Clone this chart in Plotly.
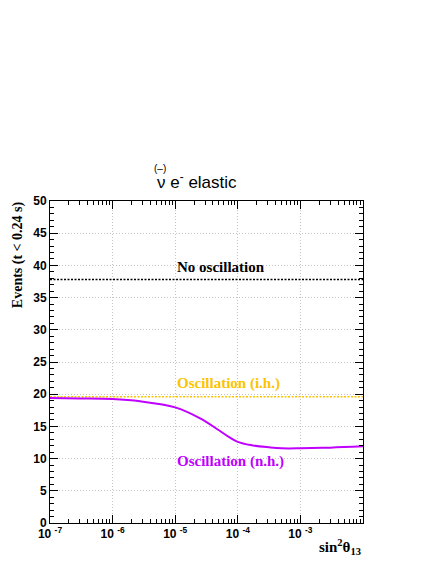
import plotly.graph_objects as go

# sin^2(theta13) grid and event counts (t < 0.24 s)
SIN2_T13 = [1e-7, 3e-7, 1e-6, 2.75e-6, 1e-5, 2.5e-5, 5e-5, 7.5e-5, 1e-4, 1.6e-4, 3.2e-4, 5e-4, 1e-3, 3e-3, 1e-2]
EVENTS_NH = [19.4, 19.35, 19.25, 18.9, 17.95, 16.25, 14.4, 13.25, 12.6, 12.1, 11.75, 11.6, 11.6, 11.7, 11.9]
X_ENDS = [1e-7, 1e-2]
EVENTS_IH = [19.6, 19.6]
EVENTS_NOOSC = [37.8, 37.8]

X_TICKS = [1e-7, 1e-6, 1e-5, 1e-4, 1e-3]
X_TICKTEXT = ["<b>10 <sup>-7</sup></b>", "<b>10 <sup>-6</sup></b>", "<b>10 <sup>-5</sup></b>",
              "<b>10 <sup>-4</sup></b>", "<b>10 <sup>-3</sup></b>"]
Y_TICKS = [0, 5, 10, 15, 20, 25, 30, 35, 40, 45, 50]

PURPLE = "#c000ff"
GOLD = "#fcc400"
SERIF = "Liberation Serif"
SANS = "Liberation Sans"

fig = go.Figure()
fig.add_trace(go.Scatter(x=X_ENDS, y=EVENTS_NOOSC, mode="lines",
                         line=dict(color="black", width=1.5, dash="2px,1.5px"), showlegend=False))
fig.add_trace(go.Scatter(x=X_ENDS, y=EVENTS_IH, mode="lines",
                         line=dict(color=GOLD, width=1.5, dash="2px,1.5px"), showlegend=False))
fig.add_trace(go.Scatter(x=SIN2_T13, y=EVENTS_NH, mode="lines", line_shape="spline",
                         line=dict(color=PURPLE, width=2), showlegend=False))

axis_common = dict(showline=True, linecolor="black", linewidth=1, mirror="allticks",
                   ticks="inside", ticklen=8, tickcolor="black", zeroline=False, automargin=False,
                   showgrid=True, gridcolor="#c4c4c4", griddash="1px,2px", gridwidth=1,
                   tickfont=dict(family=SANS, size=12, color="black"))

fig.update_xaxes(type="log", range=[-7, -2], tickvals=X_TICKS, ticktext=X_TICKTEXT,
                 minor=dict(ticks="inside", ticklen=4, tickcolor="black", dtick="D1", showgrid=False),
                 **axis_common)
fig.update_yaxes(range=[0, 50], tickvals=Y_TICKS, ticktext=[f"<b>{v}</b>" for v in Y_TICKS],
                 minor=dict(ticks="inside", ticklen=4, tickcolor="black", dtick=1, showgrid=False),
                 **axis_common)

ann = [
    dict(x=-5, y=39.8, xref="x", yref="y", text="<b>No oscillation</b>", showarrow=False,
         xanchor="left", font=dict(family=SERIF, size=15, color="black")),
    dict(x=-5, y=21.7, xref="x", yref="y", text="<b>Oscillation (i.h.)</b>", showarrow=False,
         xanchor="left", font=dict(family=SERIF, size=15, color=GOLD)),
    dict(x=-5, y=9.6, xref="x", yref="y", text="<b>Oscillation (n.h.)</b>", showarrow=False,
         xanchor="left", font=dict(family=SERIF, size=15, color=PURPLE)),
    # title
    dict(x=0.337, y=1.062, xref="paper", yref="paper", text="ν e<sup>-</sup> elastic", showarrow=False,
         xanchor="left", yanchor="middle", font=dict(family=SANS, size=17, color="black")),
    dict(x=0.353, y=1.102, xref="paper", yref="paper", text="(–)", showarrow=False,
         xanchor="center", yanchor="middle", font=dict(family=SANS, size=10, color="black")),
    # axis titles
    dict(x=-0.102, y=0.832, xref="paper", yref="paper", text="<b>Events (t < 0.24 s)</b>",
         showarrow=False, textangle=-90, xanchor="center", yanchor="middle",
         font=dict(family=SERIF, size=14, color="black")),
    dict(x=1.0, y=-0.075, xref="paper", yref="paper", text="<b>sin<sup>2</sup>θ<sub>13</sub></b>",
         showarrow=False, xanchor="right", yanchor="middle",
         font=dict(family=SERIF, size=15, color="black")),
]

# page body adds ~8px offset, so margins are shifted to keep the frame where it belongs
fig.update_layout(width=436, height=564, paper_bgcolor="white", plot_bgcolor="white",
                  margin=dict(l=42, r=81, t=193, b=49), annotations=ann)

fig.write_html("out.html")
